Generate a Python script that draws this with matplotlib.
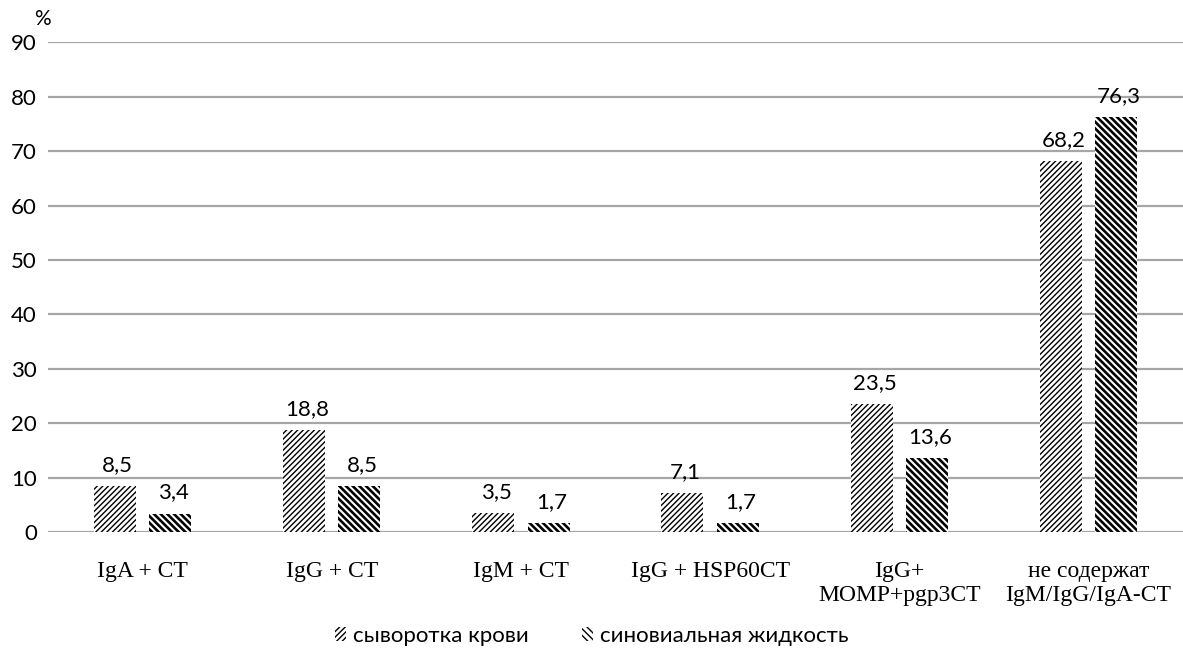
import matplotlib.pyplot as plt
import numpy as np

categories = ["IgA + CT", "IgG + CT", "IgM + CT", "IgG + HSP60CT",
              "IgG+\nMOMP+pgp3CT", "не содержат\nIgM/IgG/IgA-CT"]
serum = [8.5, 18.8, 3.5, 7.1, 23.5, 68.2]
synovial = [3.4, 8.5, 1.7, 1.7, 13.6, 76.3]
series_names = ["сыворотка крови", "синовиальная жидкость"]

fig = plt.figure(figsize=(11.83, 6.5), dpi=100)
ax = fig.add_axes([0.0406, 0.1815, 0.9594, 0.7535])

x = np.arange(len(categories))
width = 0.222
offset = 0.146

with plt.rc_context({"hatch.linewidth": 1.0}):
    b1 = ax.bar(x - offset, serum, width, color="white", edgecolor="black",
                hatch="//////", linewidth=0, label=series_names[0])
with plt.rc_context({"hatch.linewidth": 1.9}):
    b2 = ax.bar(x + offset, synovial, width, color="white", edgecolor="black",
                hatch="\\\\\\\\\\", linewidth=0, label=series_names[1])

for bars, vals in ((b1, serum), (b2, synovial)):
    for rect, v in zip(bars, vals):
        ax.annotate(f"{v:.1f}".replace(".", ","),
                    (rect.get_x() + rect.get_width() / 2, v),
                    xytext=(2, 8), textcoords="offset points",
                    ha="center", va="bottom", fontsize=16, family="Lato")

ax.set_xlim(-0.5, len(categories) - 0.5)
ax.set_ylim(0, 90)
ax.set_yticks(np.arange(0, 91, 10))
ax.yaxis.grid(True, color="#a6a6a6", linewidth=1.6)
ax.set_axisbelow(True)
for s in ("top", "right", "left", "bottom"):
    ax.spines[s].set_visible(False)
ax.tick_params(axis="both", length=0)
ax.tick_params(axis="y", labelsize=16, pad=8)
for t in ax.get_yticklabels():
    t.set_family("Lato")
ax.set_xticks(x)
ax.set_xticklabels(categories, fontsize=17, family="Liberation Serif", linespacing=1.15)
ax.tick_params(axis="x", pad=21)

fig.text(0.036, 0.955, "%", fontsize=15, family="Lato", ha="center", va="bottom")

fig.legend(handles=[b1, b2], loc="center", bbox_to_anchor=(0.5, 0.022),
           ncol=2, frameon=False, prop={"family": "Lato", "size": 16},
           handlelength=0.5, handleheight=0.6, handletextpad=0.3, columnspacing=2.4)

fig.savefig("out.png", dpi=100)
